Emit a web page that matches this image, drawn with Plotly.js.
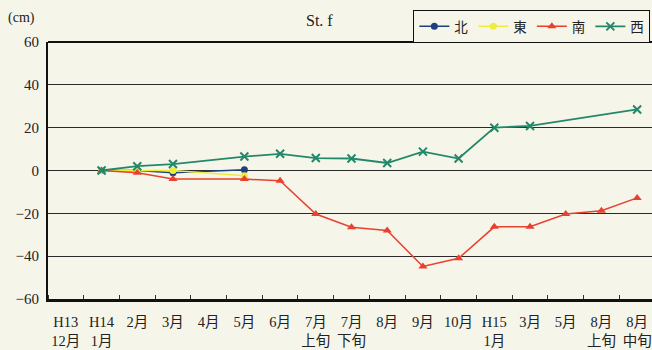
<!DOCTYPE html>
<html>
<head>
<meta charset="utf-8">
<script src="https://cdn.plot.ly/plotly-3.0.1.min.js"></script>
<style>
html,body{margin:0;padding:0;overflow:hidden;background:#f6f5ea;}
#chart{width:660px;height:350px;}
</style>
</head>
<body>
<div id="chart"></div>
<script>
// Categories (x positions by index) and their two-line labels
const tickLabels = ["H13<br>12月","H14<br>1月","2月","3月","4月","5月","6月","7月<br>上旬","7月<br>下旬","8月","9月","10月","H15<br>1月","3月","5月","8月<br>上旬","8月<br>中旬"];
const xIdx = [0,1,2,3,4,5,6,7,8,9,10,11,12,13,14,15,16];

// Series values (cm)
const north = [null, 0, 0, -1, null, 0.3, null, null, null, null, null, null, null, null, null, null, null];
const east  = [null, 0, 0, 0, null, -2.5, null, null, null, null, null, null, null, null, null, null, null];
const south = [null, 0, -1, -4, null, -4, -4.8, -20.3, -26.5, -28, -44.8, -41, -26.3, -26.3, -20.3, -18.8, -12.8];
const west  = [null, 0, 2, 3, null, 6.5, 7.8, 5.8, 5.6, 3.5, 8.8, 5.6, 20, 20.8, null, null, 28.5];

const seriesNames = ["北","東","南","西"];
const yTicks = [-60,-40,-20,0,20,40,60];

const serif = "Liberation Serif, 'Noto Sans CJK JP', serif";
const bg = "#f6f5ea";

const traces = [
  {x: xIdx, y: north, name: seriesNames[0], mode: "lines+markers", connectgaps: true,
   line: {color: "#1f3f7f", width: 1.5}, marker: {symbol: "circle", size: 7, color: "#1f3f7f"}},
  {x: xIdx, y: east, name: seriesNames[1], mode: "lines+markers", connectgaps: true,
   line: {color: "#eeee3a", width: 1.5}, marker: {symbol: "circle", size: 7, color: "#eeee3a"}},
  {x: xIdx, y: south, name: seriesNames[2], mode: "lines+markers", connectgaps: true,
   line: {color: "#e8412e", width: 1.5}, marker: {symbol: "triangle-up", size: 8, color: "#e8412e"}},
  {x: xIdx, y: west, name: seriesNames[3], mode: "lines+markers", connectgaps: true,
   line: {color: "#23886a", width: 1.8}, marker: {symbol: "x-thin", size: 8, line: {color: "#23886a", width: 2}}}
];

const layout = {
  width: 660, height: 350,
  margin: {l: 48, r: 5, t: 42, b: 51},
  paper_bgcolor: bg,
  plot_bgcolor: bg,
  font: {family: serif, size: 14, color: "#222"},
  showlegend: true,
  legend: {
    orientation: "h", x: 0.992, xanchor: "right", y: 1.125, yanchor: "top",
    bordercolor: "#111", borderwidth: 1.2, bgcolor: bg,
    font: {family: serif, size: 13.5, color: "#222"},
    itemwidth: 30, tracegroupgap: 0
  },
  xaxis: {
    range: [-0.5, 16.5],
    tickmode: "array", tickvals: xIdx, ticktext: tickLabels,
    ticks: "", showgrid: false, zeroline: false,
    showline: true, linecolor: "#111", linewidth: 2.5, mirror: false,
    ticklabelstandoff: 8,
    tickfont: {family: serif, size: 14.5, color: "#222"},
    minor: {tick0: 0.5, dtick: 1, ticks: "inside", ticklen: 4, tickcolor: "#333", tickwidth: 1, showgrid: false}
  },
  yaxis: {
    range: [-60, 60],
    tickmode: "array", tickvals: yTicks,
    ticks: "", showgrid: true, gridcolor: "#2a2a2a", gridwidth: 1.2,
    zeroline: true, zerolinecolor: "#2a2a2a", zerolinewidth: 1.5,
    showline: true, linecolor: "#111", linewidth: 2, mirror: false,
    ticklabelstandoff: 4,
    tickfont: {family: serif, size: 15, color: "#222"}
  },
  shapes: [
    {type: "line", xref: "paper", yref: "paper", x0: 0, x1: 1, y0: 1, y1: 1, line: {color: "#111", width: 2.2}}
  ],
  annotations: [
    {text: "(cm)", xref: "paper", yref: "paper", x: -0.043, y: 1.093, xanchor: "center", yanchor: "middle",
     showarrow: false, font: {family: serif, size: 14, color: "#222"}},
    {text: "St. f", xref: "paper", yref: "paper", x: 0.448, y: 1.085, xanchor: "center", yanchor: "middle",
     showarrow: false, font: {family: serif, size: 16, color: "#222"}}
  ]
};

Plotly.newPlot("chart", traces, layout, {displayModeBar: false, staticPlot: true});
</script>
</body>
</html>
